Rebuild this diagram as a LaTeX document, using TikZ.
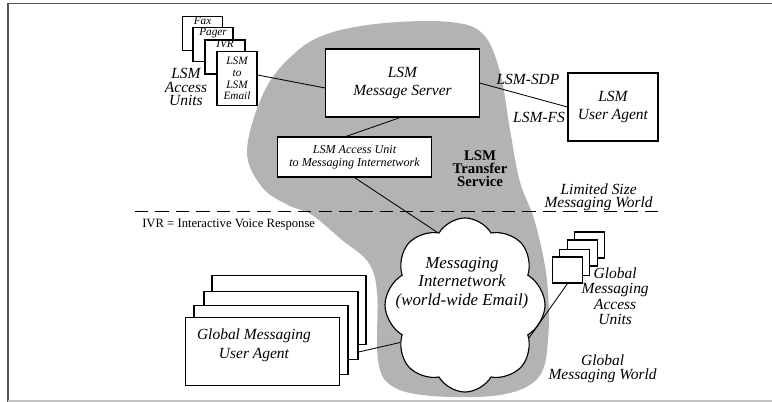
\documentclass[tikz,border=0pt]{standalone}
\usepackage{fontspec}
\setmainfont{Liberation Serif}
\usepackage{xcolor}
\usetikzlibrary{shapes.symbols,calc}

\definecolor{blobgray}{RGB}{179,179,179}
\definecolor{framedark}{RGB}{85,85,85}
\definecolor{framelight}{RGB}{195,195,195}

\begin{document}
\begin{tikzpicture}[
    x=0.025cm, y=-0.025cm,
    box/.style={rectangle, draw, fill=white, line width=0.8pt, inner sep=0pt, align=center, font=\fontsize{11}{13}\selectfont\itshape},
    smallbox/.style={rectangle, draw, fill=white, line width=0.8pt, inner sep=0pt, minimum width=1cm, align=center, font=\fontsize{8}{8.4}\selectfont\itshape},
    stackbox/.style={rectangle, draw, fill=white, line width=0.8pt, inner sep=0pt, minimum width=3.85cm, minimum height=1.72cm},
    tinybox/.style={rectangle, draw, fill=white, line width=0.8pt, inner sep=0pt, minimum width=0.73cm, minimum height=0.65cm},
    toptext/.style={anchor=north, inner sep=0.5pt, font=\fontsize{8}{8}\selectfont\itshape},
    note/.style={inner sep=0pt, align=center, font=\fontsize{11}{9.6}\selectfont\itshape},
    link/.style={line width=0.6pt}
]
\useasboundingbox (0,0) rectangle (772,402);

% frame
\draw[framedark, line width=1pt] (8,402) -- (8,3.5) -- (772,3.5);
\draw[framelight, line width=1pt] (8,401) -- (772,401);

% LSM Transfer Service area
\fill[blobgray] plot[smooth cycle, tension=0.6] coordinates {
  (247,150) (262,187) (288,205) (312,215) (342,240) (368,262) (377,292)
  (378,360) (392,386) (432,396) (500,395) (538,378) (548,340) (547,280)
  (535,222) (520,182) (510,130) (500,72) (483,34) (450,22) (385,23)
  (330,33) (296,52) (265,90)};
\node[font=\fontsize{10.5}{9.4}\selectfont\bfseries, align=center, inner sep=0pt] (lts) at (480,168.5) {LSM\\Transfer\\Service};

% LSM access units
\node[smallbox, minimum height=0.83cm, minimum width=0.98cm, label={[toptext]north:Fax}] (fax) at (202.5,33.5) {};
\node[smallbox, minimum height=0.83cm, label={[toptext]north:Pager}] (pager) at (213,44.5) {};
\node[smallbox, minimum height=0.85cm, label={[toptext]north:IVR}] (ivr) at (225,57) {};
\node[smallbox, minimum height=1.33cm] (email) at (237,78.5) {LSM\\to\\LSM\\Email};
\node[note] (lau) at (186,87) {LSM\\Access\\Units};

% LSM side
\node[box, minimum width=3.83cm, minimum height=1.7cm] (server) at (402.5,83) {LSM\\Message Server};
\node[box, minimum width=3.87cm, minimum height=1cm, font=\fontsize{8.6}{9.4}\selectfont\itshape] (au) at (354.5,157) {LSM Access Unit\\to Messaging Internetwork};
\node[box, minimum width=2.25cm, minimum height=1.7cm] (ua) at (613,107) {LSM\\User Agent};
\node[font=\fontsize{11}{13}\selectfont\itshape, inner sep=0pt] (sdp) at (528,79) {LSM-SDP};
\node[font=\fontsize{11}{13}\selectfont\itshape, inner sep=0pt] (fs) at (539,117) {LSM-FS};

\draw[link] ($(email.east)+(0,-3.5)$) -- ($(server.west)+(0,5)$);
\draw[link] ($(server.south)+(-2.5,0)$) -- ($(au.north)+(-8.5,0)$);
\draw[link] (server.east) -- (ua.west);

% world boundary
\coordinate (dashL) at (135,211.7);
\coordinate (dashR) at (658,211.7);
\draw[line width=0.8pt, dash pattern=on 9.5pt off 5pt] (dashL) -- (dashR);
\node[note, anchor=east] (lsw) at (653,197.5) {Limited Size\\Messaging World};
\node[inner sep=0pt, anchor=west, font=\fontsize{9}{10}\selectfont] (ivrkey) at (142,225) {IVR = Interactive Voice Response};

% Messaging internetwork
\node[cloud, draw, fill=white, line width=0.8pt, cloud puffs=8, cloud puff arc=120, cloud ignores aspect, minimum width=4cm, minimum height=4.35cm, inner sep=0pt] (net) at (465,305) {};
\node[inner sep=0pt, align=center, font=\fontsize{12}{13}\selectfont\itshape] (nettext) at (462,283) {Messaging\\Internetwork\\(world-wide Email)};
\draw[link] (au.south) -- (net.111);

% Global messaging user agents
\node[stackbox] (gmua1) at (289,310) {};
\node[stackbox] (gmua2) at (281,325.5) {};
\node[stackbox] (gmua3) at (271,340) {};
\node[stackbox] (gmua) at (262.5,351.5) {};
\node[inner sep=0pt, align=center, font=\fontsize{11}{13.5}\selectfont\itshape] (gmuatext) at (254,345) {Global Messaging\\User Agent};
\draw[link] ($(gmua2.east)+(0,26.5)$) -- (net.210);

% Global messaging access units
\node[tinybox] (gmau1) at (589.5,245) {};
\node[tinybox] (gmau2) at (582.5,253) {};
\node[tinybox] (gmau3) at (574.5,262.5) {};
\node[tinybox] (gmau) at (567.5,270) {};
\node[note, anchor=east, font=\fontsize{11}{11}\selectfont\itshape] (gmaulabel) at (649,296) {Global\\Messaging\\Access\\Units};
\draw[link] (gmau.south) -- (net.333);

\node[note, anchor=east] (gmw) at (657,369) {Global\\Messaging World};

\end{tikzpicture}
\end{document}
